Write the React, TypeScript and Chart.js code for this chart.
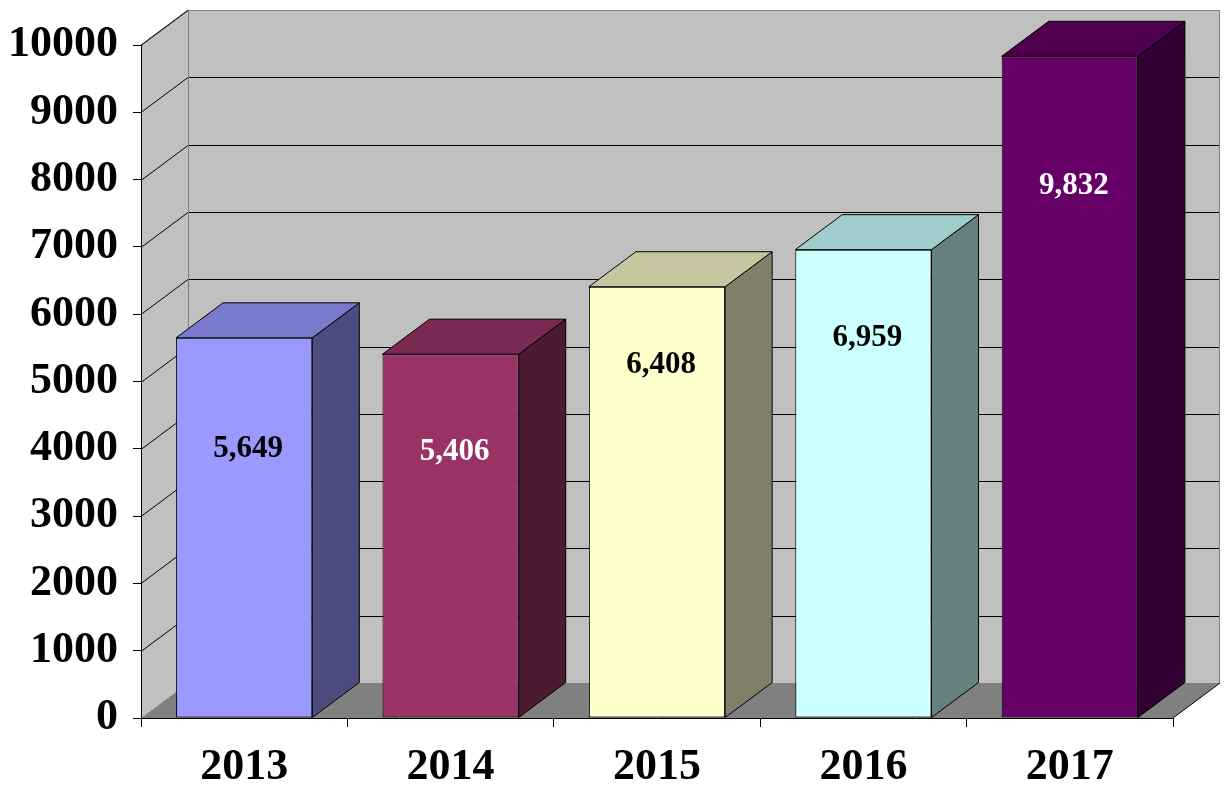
import React, { useEffect, useRef } from 'react';
import { Chart, registerables } from 'chart.js';

Chart.register(...registerables);

const categories = ['2013', '2014', '2015', '2016', '2017'];
const values = [5649, 5406, 6408, 6959, 9832];
const frontColors = ['#9999FF', '#993366', '#FFFFCC', '#CCFFFF', '#660066'];
const topColors = ['#7A7ACC', '#7A2952', '#C8C6A0', '#A0CCCC', '#4E004E'];
const sideColors = ['#4C4C80', '#4D1A33', '#80806A', '#668080', '#330033'];
const labelColors = ['#000000', '#FFFFFF', '#000000', '#000000', '#FFFFFF'];
const labelAnchors = [4000, 3950, 5250, 5650, 7900];
const yMin = 0;
const yMax = 10000;
const yStep = 1000;

const DX = 47;
const DY = 35;
const FONT = '"Liberation Serif", "Times New Roman", serif';

const threeD = {
  id: 'threeD',
  beforeDraw(chart: any) {
    const { ctx, chartArea: a, scales } = chart;
    const y = scales.y;
    ctx.save();
    // left wall
    ctx.fillStyle = '#C0C0C0';
    ctx.beginPath();
    ctx.moveTo(a.left, a.bottom);
    ctx.lineTo(a.left, a.top);
    ctx.lineTo(a.left + DX, a.top - DY);
    ctx.lineTo(a.left + DX, a.bottom - DY);
    ctx.closePath();
    ctx.fill();
    // back wall
    ctx.fillRect(a.left + DX, a.top - DY, a.right - a.left, a.bottom - a.top);
    // floor
    ctx.fillStyle = '#808080';
    ctx.beginPath();
    ctx.moveTo(a.left, a.bottom);
    ctx.lineTo(a.left + DX, a.bottom - DY);
    ctx.lineTo(a.right + DX, a.bottom - DY);
    ctx.lineTo(a.right, a.bottom);
    ctx.closePath();
    ctx.fill();
    // gridlines
    ctx.strokeStyle = '#000000';
    ctx.lineWidth = 1;
    y.ticks.forEach((t: any) => {
      if (t.value === yMin) return;
      const py = Math.round(y.getPixelForValue(t.value));
      ctx.beginPath();
      ctx.moveTo(a.left + DX, py - DY + 0.5);
      ctx.lineTo(a.right + DX, py - DY + 0.5);
      ctx.stroke();
      ctx.beginPath();
      ctx.moveTo(a.left, py + 0.5);
      ctx.lineTo(a.left + DX, py - DY + 0.5);
      ctx.stroke();
    });
    // wall borders
    ctx.strokeStyle = '#808080';
    ctx.beginPath();
    ctx.moveTo(a.left + DX + 0.5, a.bottom - DY);
    ctx.lineTo(a.left + DX + 0.5, a.top - DY + 0.5);
    ctx.lineTo(a.right + DX - 0.5, a.top - DY + 0.5);
    ctx.lineTo(a.right + DX - 0.5, a.bottom - DY);
    ctx.stroke();
    ctx.strokeStyle = '#333333';
    ctx.beginPath();
    ctx.moveTo(a.left, a.top);
    ctx.lineTo(a.left + DX, a.top - DY);
    ctx.stroke();
    ctx.strokeStyle = '#000000';
    ctx.beginPath();
    ctx.moveTo(a.right, a.bottom);
    ctx.lineTo(a.right + DX, a.bottom - DY);
    ctx.stroke();
    ctx.restore();
  },
  afterDatasetsDraw(chart: any) {
    const { ctx, scales } = chart;
    const y = scales.y;
    const meta = chart.getDatasetMeta(0);
    ctx.save();
    ctx.strokeStyle = '#000000';
    ctx.lineWidth = 1;
    ctx.lineJoin = 'miter';
    meta.data.forEach((bar: any, i: number) => {
      const p = bar.getProps(['x', 'y', 'base', 'width'], true);
      const xL = p.x - p.width / 2;
      const xR = p.x + p.width / 2;
      const yT = p.y;
      const yB = p.base;
      // side
      ctx.fillStyle = sideColors[i];
      ctx.beginPath();
      ctx.moveTo(xR, yT);
      ctx.lineTo(xR + DX, yT - DY);
      ctx.lineTo(xR + DX, yB - DY);
      ctx.lineTo(xR, yB);
      ctx.closePath();
      ctx.fill();
      ctx.stroke();
      // top
      ctx.fillStyle = topColors[i];
      ctx.beginPath();
      ctx.moveTo(xL, yT);
      ctx.lineTo(xL + DX, yT - DY);
      ctx.lineTo(xR + DX, yT - DY);
      ctx.lineTo(xR, yT);
      ctx.closePath();
      ctx.fill();
      ctx.stroke();
      // label
      ctx.fillStyle = labelColors[i];
      ctx.font = 'bold 31px ' + FONT;
      ctx.textAlign = 'center';
      ctx.textBaseline = 'middle';
      ctx.fillText(values[i].toLocaleString('en-US'), p.x + 4, y.getPixelForValue(labelAnchors[i]));
    });
    ctx.restore();
  },
};

export default function App() {
  const ref = useRef<HTMLCanvasElement | null>(null);
  useEffect(() => {
    if (!ref.current) return;
    const chart = new Chart(ref.current, {
      type: 'bar',
      data: {
        labels: categories,
        datasets: [
          {
            data: values,
            backgroundColor: frontColors,
            borderColor: '#000000',
            borderWidth: 1,
            borderSkipped: false,
            barPercentage: 0.66,
            categoryPercentage: 1,
          },
        ],
      },
      options: {
        animation: false,
        responsive: true,
        maintainAspectRatio: false,
        layout: { padding: { top: 45, right: 51, left: 0, bottom: 0 } },
        plugins: { legend: { display: false }, tooltip: { enabled: false } },
        scales: {
          x: {
            grid: { drawOnChartArea: false, drawTicks: true, tickLength: 9, color: '#000000', offset: true },
            border: { display: true, color: '#000000', width: 1 },
            ticks: { color: '#000000', font: { family: FONT, size: 44, weight: 'bold' }, padding: 14, maxRotation: 0 },
            afterFit: (s: any) => { s.height = 72; },
          },
          y: {
            min: yMin,
            max: yMax,
            grid: { drawOnChartArea: false, drawTicks: true, tickLength: 8, color: '#000000' },
            border: { display: true, color: '#000000', width: 1 },
            ticks: {
              stepSize: yStep,
              color: '#000000',
              font: { family: FONT, size: 44, weight: 'bold' },
              padding: 15,
              callback: (v: any) => String(v),
            },
            afterFit: (s: any) => { s.width = 141; },
          },
        },
      },
      plugins: [threeD],
    });
    return () => chart.destroy();
  }, []);
  return (
    <div style={{ position: 'fixed', left: 0, top: 0, width: 1224, height: 790, background: '#FFFFFF' }}>
      <canvas ref={ref} />
    </div>
  );
}
